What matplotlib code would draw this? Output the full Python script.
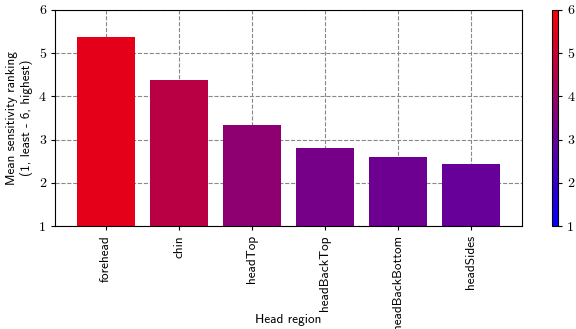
import matplotlib
matplotlib.use("Agg")
import matplotlib.pyplot as plt
from matplotlib.colors import LinearSegmentedColormap, Normalize
from matplotlib.cm import ScalarMappable

regions = ["forehead", "chin", "headTop", "headBackTop", "headBackBottom", "headSides"]
mean_rank = [5.38, 4.38, 3.33, 2.80, 2.60, 2.43]

plt.rcParams["axes.formatter.use_mathtext"] = True
plt.rcParams["mathtext.fontset"] = "cm"

cmap = LinearSegmentedColormap.from_list("blue_red", ["#0000ff", "#ff0000"])
bar_norm = Normalize(vmin=0, vmax=6)
bar_norm_cb = Normalize(vmin=1, vmax=6)

fig = plt.figure(figsize=(5.76, 3.29), dpi=100)
ax = fig.add_axes([0.0955, 0.313, 0.8105, 0.657])
cax = fig.add_axes([0.958, 0.313, 0.011, 0.657])

x = list(range(len(regions)))
ax.bar(x, [v - 1 for v in mean_rank], bottom=1, width=0.8,
       color=[cmap(bar_norm(v)) for v in mean_rank], zorder=2)
ax.set_xlim(-0.7, len(regions) - 0.3)
ax.set_ylim(1, 6)
ax.set_xticks(x)
ax.set_xticklabels(regions, rotation=90, family="cmss10", fontsize=9.5)
ax.set_yticks([1, 2, 3, 4, 5, 6])
ax.set_yticklabels([str(t) for t in [1, 2, 3, 4, 5, 6]], family="cmr10", fontsize=10)
ax.grid(True, linestyle="--", color="#888888", linewidth=0.8, zorder=0)
ax.set_axisbelow(True)
ax.set_xlabel("Head region", family="cmss10", fontsize=9.5)
ax.xaxis.set_label_coords(0.5, -0.405)
ax.set_ylabel("Mean sensitivity ranking\n(1, least - 6, highest)", family="cmss10", fontsize=9.5)
ax.tick_params(length=3, width=0.8)
for s in ax.spines.values():
    s.set_linewidth(0.8)

sm = ScalarMappable(norm=bar_norm_cb, cmap=cmap)
cb = fig.colorbar(sm, cax=cax)
cb.set_ticks([1, 2, 3, 4, 5, 6])
cb.set_ticklabels([str(t) for t in [1, 2, 3, 4, 5, 6]])
for lab in cax.get_yticklabels():
    lab.set_family("cmr10")
    lab.set_fontsize(10)
cax.tick_params(length=3, width=0.8)
cb.outline.set_linewidth(0.8)

fig.savefig("out.png", dpi=100)
